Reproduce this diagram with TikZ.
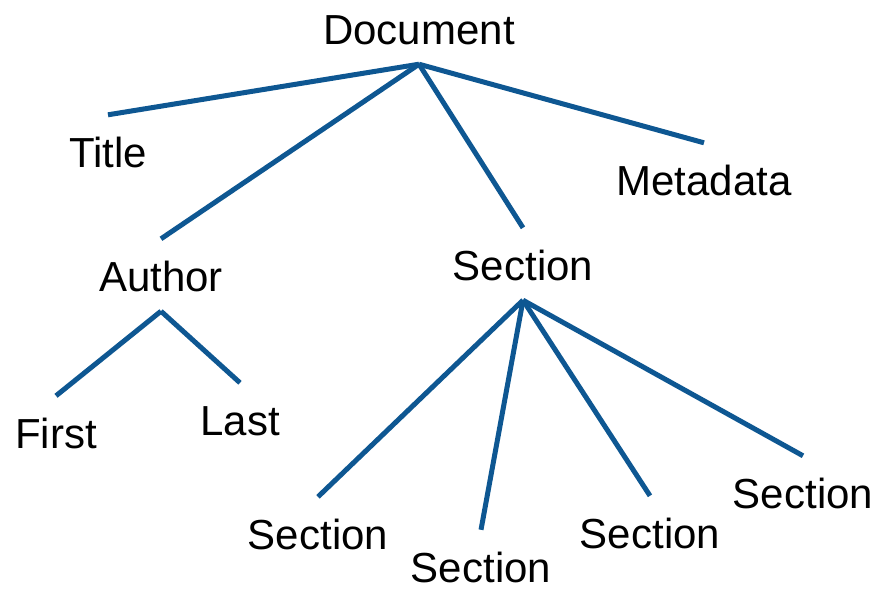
\documentclass[tikz,border=0pt]{standalone}
\usepackage{fontspec}
\setmainfont{Liberation Sans}
\definecolor{tree blue}{HTML}{0E5792}

\begin{document}
\begin{tikzpicture}[x=1pt, y=-1pt,
        label/.style={anchor=base, inner xsep=0pt, inner ysep=20pt, text height=32pt, text depth=0pt, font=\fontsize{42}{50}\selectfont},
        branch/.style={line width=5pt, tree blue}]
                \useasboundingbox (0, 0) rectangle (878, 590);
                \node [label] (doc) at (419, 44) {Document};
                \node [label] (title) at (108, 167) {Title};
                \node [label] (meta) at (704, 195) {Metadata};
                \node [label] (author) at (161, 291) {Author};
                \node [label] (sec) at (523, 280) {Section};
                \node [label] (first) at (56, 448) {First};
                \node [label] (last) at (240, 435) {Last};
                \node [label] (sub1) at (318, 549) {Section};
                \node [label] (sub2) at (481, 582) {Section};
                \node [label] (sub3) at (650, 548) {Section};
                \node [label] (sub4) at (803, 508) {Section};
                \draw [branch] (doc.south) -- (title.north);
                \draw [branch] (doc.south) -- (author.north);
                \draw [branch] (doc.south) -- (sec.north);
                \draw [branch] (doc.south) -- (meta.north);
                \draw [branch] (author.south) -- (first.north);
                \draw [branch] (author.south) -- (last.north);
                \draw [branch] (sec.south) -- (sub1.north);
                \draw [branch] (sec.south) -- (sub2.north);
                \draw [branch] (sec.south) -- (sub3.north);
                \draw [branch] (sec.south) -- (sub4.north);
            \end{tikzpicture}
\end{document}
